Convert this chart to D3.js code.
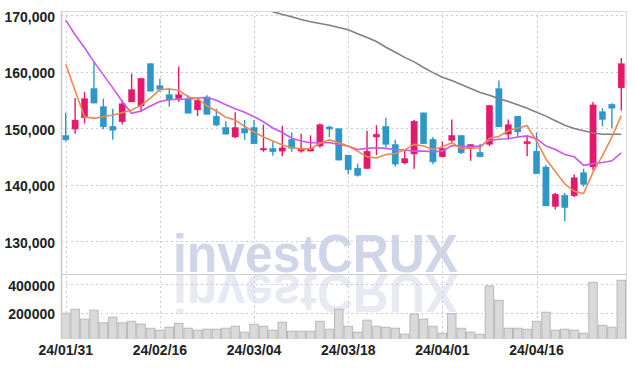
<!DOCTYPE html>
<html lang="ko">
<head>
<meta charset="UTF-8">
<title>Candles</title>
<style>
  body { margin: 0; background: #fff; }
  svg text { font-family: "Liberation Sans Narrow", "Liberation Sans", sans-serif; }
</style>
</head>
<body>
<div id="chart"></div>
<script src="https://cdn.jsdelivr.net/npm/d3@7"></script>
<script>
const WIDTH = 635;
const HEIGHT = 368;
const LEFT = 61;
const RIGHT = 626;
const MAIN_TOP = 11;
const MAIN_BOTTOM = 274;
const VOL_BOTTOM = 339;
const UP = "#e3196b";
const DOWN = "#2f96c8";

// trading days
const DATES = [
  "2024-01-31", "2024-02-01", "2024-02-02", "2024-02-05", "2024-02-06", "2024-02-07", "2024-02-08", "2024-02-13", "2024-02-14", "2024-02-15",
  "2024-02-16", "2024-02-19", "2024-02-20", "2024-02-21", "2024-02-22", "2024-02-23", "2024-02-26", "2024-02-27", "2024-02-28", "2024-02-29",
  "2024-03-04", "2024-03-05", "2024-03-06", "2024-03-07", "2024-03-08", "2024-03-11", "2024-03-12", "2024-03-13", "2024-03-14", "2024-03-15",
  "2024-03-18", "2024-03-19", "2024-03-20", "2024-03-21", "2024-03-22", "2024-03-25", "2024-03-26", "2024-03-27", "2024-03-28", "2024-03-29",
  "2024-04-01", "2024-04-02", "2024-04-03", "2024-04-04", "2024-04-05", "2024-04-08", "2024-04-09", "2024-04-11", "2024-04-12", "2024-04-15",
  "2024-04-16", "2024-04-17", "2024-04-18", "2024-04-19", "2024-04-22", "2024-04-23", "2024-04-24", "2024-04-25", "2024-04-26", "2024-04-29"
];

const OPEN = [
  148700, 149800, 151800, 157000, 153800, 150300, 151100, 154600, 153900, 161400,
  157500, 155900, 155200, 155200, 153200, 155500, 152100, 150100, 148400, 149900,
  150100, 146100, 146400, 145900, 148000, 145900, 145900, 146800, 150200, 149900,
  145200, 142900, 142800, 148400, 150300, 147100, 143800, 145400, 152700, 148000,
  144900, 147800, 148700, 146500, 145700, 147100, 157000, 148900, 152100, 147200,
  145900, 143100, 136100, 138100, 138000, 142100, 143100, 152900, 154200, 157100
];
const HIGH = [
  152700, 155300, 156400, 161800, 155200, 153400, 154900, 159600, 158900, 161500,
  158700, 157100, 160900, 155800, 155300, 155800, 153400, 151200, 152800, 151400,
  151400, 150600, 147600, 150400, 149200, 149000, 148700, 150800, 150400, 149900,
  145200, 143700, 149500, 150500, 151800, 147900, 146100, 151400, 152700, 148400,
  147600, 151500, 148700, 147100, 147200, 154100, 158400, 151500, 152100, 148500,
  149200, 143400, 138500, 138500, 141800, 142800, 154600, 153500, 154400, 162400
];
const LOW = [
  147600, 149000, 150800, 154400, 149800, 147900, 150600, 154600, 152800, 156500,
  156400, 153800, 154600, 152600, 152100, 152400, 150300, 148900, 148200, 147900,
  147200, 145800, 145100, 145000, 145800, 145600, 145900, 146500, 148400, 144300,
  141800, 141400, 142800, 145200, 146600, 143200, 143600, 142800, 147200, 143600,
  144900, 147400, 145400, 144200, 144900, 146800, 150200, 148000, 148400, 145000,
  141900, 136200, 135600, 133500, 137800, 139600, 142500, 150300, 150000, 153100
];
const CLOSE = [
  147900, 151400, 155200, 154400, 150200, 149600, 154300, 156800, 158800, 156500,
  156800, 155000, 155900, 152600, 154900, 152400, 150500, 148900, 150100, 149100,
  147200, 146400, 145800, 146500, 146400, 146400, 146400, 150600, 149800, 144300,
  142600, 141600, 145900, 148900, 147100, 143600, 144600, 151200, 147200, 144000,
  146400, 148700, 145600, 147100, 144900, 154000, 150200, 150600, 149300, 147600,
  141900, 136200, 138300, 135900, 141200, 140000, 154100, 151500, 153500, 161400
];
const VOLUME = [
  196000, 224000, 154000, 217000, 128000, 168000, 128000, 139000, 120000, 90000,
  76000, 97000, 125000, 90000, 76000, 83000, 83000, 90000, 104000, 62000,
  118000, 104000, 76000, 132000, 69000, 69000, 69000, 139000, 83000, 224000,
  104000, 62000, 147000, 104000, 97000, 90000, 48000, 191000, 154000, 104000,
  55000, 193000, 90000, 62000, 48000, 388000, 287000, 90000, 90000, 83000,
  139000, 203000, 76000, 83000, 76000, 55000, 414000, 111000, 97000, 428000
];
const MA5 = [
  161300, 156600, 152000, 151700, 152000, 152300, 152700, 153200, 154000, 155300,
  156800, 156900, 156700, 155500, 155200, 153900, 153000, 151900, 151400, 150300,
  149300, 148400, 147700, 147000, 146500, 146300, 146300, 147300, 147900, 147400,
  146800, 145900, 144900, 144700, 145300, 145500, 146100, 147100, 146800, 146200,
  146700, 147400, 146400, 146400, 146500, 148200, 148500, 149500, 150000, 150400,
  147700, 144500, 142300, 140100, 138800, 138400, 142200, 145100, 148400, 152200
];
const MA20 = [
  169100, 166500, 164200, 161700, 159400, 157100, 154700, 152600, 153000, 153900,
  154700, 155000, 155100, 155100, 155300, 155400, 154900, 154100, 153400, 152800,
  152000, 151100, 150000, 149200, 148200, 147700, 147400, 147400, 147400, 147100,
  146800, 146200, 146400, 146500, 146400, 146200, 146100, 145900, 145900, 145800,
  145900, 146900, 146800, 146700, 146800, 147800, 148000, 148100, 148400, 148600,
  148100, 146800, 146200, 145300, 144900, 143400, 143700, 143900, 144200, 145600
];
const MA60 = [
  null, null, null, null, null, null, null, null, null, null,
  null, null, null, null, null, null, null, null, null, null,
  171300, 171000, 170600, 170100, 169700, 169200, 168800, 168500, 168200, 167800,
  167400, 166700, 166000, 165300, 164300, 163400, 162500, 161700, 160700, 159800,
  159000, 158400, 157700, 157000, 156300, 155800, 155200, 154700, 154100, 153500,
  152800, 152100, 151300, 150500, 149900, 149500, 149100, 148900, 148900, 148900
];

const PRICE_TICKS = [130000, 140000, 150000, 160000, 170000];
const VOLUME_TICKS = [200000, 400000];
const DATE_TICKS = ["2024-01-31", "2024-02-16", "2024-03-04", "2024-03-18", "2024-04-01", "2024-04-16"];

const candles = DATES.map((d, i) => ({
  date: d, open: OPEN[i], high: HIGH[i], low: LOW[i], close: CLOSE[i], volume: VOLUME[i]
}));

const x = d3.scaleBand().domain(DATES).range([LEFT, RIGHT]);
const cx = d => x(d) + x.bandwidth() / 2;

const y = d3.scaleLinear().domain([130000, 170000]).range([241, 15]);
const yVol = d3.scaleLinear().domain([0, 400000]).range([341, 284.3]);

const parseDate = d3.timeParse("%Y-%m-%d");
const fmtDate = d3.timeFormat("%y/%m/%d");

const svg = d3.select("#chart")
  .append("svg")
  .attr("width", WIDTH)
  .attr("height", HEIGHT);

const defs = svg.append("defs");
defs.append("clipPath").attr("id", "clip-main")
  .append("rect")
  .attr("x", LEFT).attr("y", MAIN_TOP)
  .attr("width", RIGHT - LEFT).attr("height", MAIN_BOTTOM - MAIN_TOP);
defs.append("clipPath").attr("id", "clip-vol")
  .append("rect")
  .attr("x", LEFT).attr("y", MAIN_BOTTOM)
  .attr("width", RIGHT - LEFT).attr("height", VOL_BOTTOM - MAIN_BOTTOM);

// watermark + reflection
const mark = svg.append("g")
  .style("font-family", "\"DejaVu Sans\", sans-serif")
  .style("font-weight", "bold")
  .style("font-size", "54px")
  .attr("fill", "#d0d6e8");
mark.append("text")
  .attr("x", 173).attr("y", 272)
  .attr("textLength", 285).attr("lengthAdjust", "spacingAndGlyphs")
  .text("investCRUX");
mark.append("text")
  .attr("x", 173).attr("y", 272)
  .attr("transform", "translate(0, 547) scale(1, -1)")
  .attr("textLength", 285).attr("lengthAdjust", "spacingAndGlyphs")
  .attr("opacity", 0.5)
  .text("investCRUX");

// grid
const grid = svg.append("g")
  .attr("stroke", "#c6cbe0")
  .attr("stroke-dasharray", "2,3")
  .attr("stroke-width", 1);
grid.selectAll(".hp")
  .data(PRICE_TICKS)
  .enter().append("line")
  .attr("x1", LEFT).attr("x2", RIGHT)
  .attr("y1", d => Math.round(y(d)) + 0.5).attr("y2", d => Math.round(y(d)) + 0.5);
grid.selectAll(".hv")
  .data(VOLUME_TICKS)
  .enter().append("line")
  .attr("x1", LEFT).attr("x2", RIGHT)
  .attr("y1", d => Math.round(yVol(d)) + 0.5).attr("y2", d => Math.round(yVol(d)) + 0.5);
grid.selectAll(".v")
  .data(DATE_TICKS)
  .enter().append("line")
  .attr("x1", d => Math.round(cx(d)) + 0.5).attr("x2", d => Math.round(cx(d)) + 0.5)
  .attr("y1", MAIN_TOP).attr("y2", VOL_BOTTOM);

// volume bars
svg.append("g")
  .attr("clip-path", "url(#clip-vol)")
  .selectAll("rect")
  .data(candles)
  .enter().append("rect")
  .attr("x", d => x(d.date) + 0.5)
  .attr("y", d => yVol(d.volume))
  .attr("width", x.bandwidth() - 1)
  .attr("height", d => VOL_BOTTOM - yVol(d.volume) + 2)
  .attr("fill", "#d9d9d9")
  .attr("stroke", "#b8b8b8")
  .attr("stroke-width", 1);

// candles
const main = svg.append("g").attr("clip-path", "url(#clip-main)");
const candle = main.selectAll(".candle")
  .data(candles)
  .enter().append("g")
  .attr("fill", d => d.close >= d.open ? UP : DOWN)
  .attr("stroke", d => d.close >= d.open ? UP : DOWN);

candle.append("line")
  .attr("x1", d => cx(d.date)).attr("x2", d => cx(d.date))
  .attr("y1", d => y(d.high)).attr("y2", d => y(d.low))
  .attr("stroke-width", 1.4);

candle.append("rect")
  .attr("x", d => cx(d.date) - 3.2)
  .attr("width", 6.4)
  .attr("y", d => y(Math.max(d.open, d.close)))
  .attr("height", d => Math.max(1.5, Math.abs(y(d.open) - y(d.close))))
  .attr("stroke-width", 0.6)
  .attr("stroke-opacity", 0.5);

// moving averages
const maLine = d3.line()
  .defined(d => d != null)
  .x((d, i) => cx(DATES[i]))
  .y(d => y(d));

main.append("path").datum(MA60)
  .attr("d", maLine)
  .attr("fill", "none").attr("stroke", "#808080").attr("stroke-width", 1.6);
main.append("path").datum(MA20)
  .attr("d", maLine)
  .attr("fill", "none").attr("stroke", "#cc55ee").attr("stroke-width", 1.6);
main.append("path").datum(MA5)
  .attr("d", maLine)
  .attr("fill", "none").attr("stroke", "#f08850").attr("stroke-width", 1.6);

// frame
const frame = svg.append("g").attr("fill", "none");
frame.append("line").attr("x1", LEFT).attr("x2", RIGHT).attr("y1", MAIN_TOP + 0.5).attr("y2", MAIN_TOP + 0.5).attr("stroke", "#dcdcdc");
frame.append("line").attr("x1", RIGHT + 0.5).attr("x2", RIGHT + 0.5).attr("y1", MAIN_TOP).attr("y2", VOL_BOTTOM).attr("stroke", "#dcdcdc");
frame.append("line").attr("x1", LEFT).attr("x2", RIGHT).attr("y1", MAIN_BOTTOM + 0.5).attr("y2", MAIN_BOTTOM + 0.5).attr("stroke", "#cccccc");
frame.append("line").attr("x1", LEFT + 0.5).attr("x2", LEFT + 0.5).attr("y1", MAIN_TOP).attr("y2", VOL_BOTTOM).attr("stroke", "#c8c8c8").attr("stroke-width", 1.5);

// axes
const yAxis = svg.append("g")
  .attr("transform", `translate(${LEFT}, 0)`)
  .call(d3.axisLeft(y).tickValues(PRICE_TICKS).tickFormat(d3.format(",")).tickSize(0).tickPadding(6));
const volAxis = svg.append("g")
  .attr("transform", `translate(${LEFT}, 0)`)
  .call(d3.axisLeft(yVol).tickValues(VOLUME_TICKS).tickFormat(d3.format("d")).tickSize(0).tickPadding(6));
const xAxis = svg.append("g")
  .attr("transform", `translate(0, ${VOL_BOTTOM})`)
  .call(d3.axisBottom(x).tickValues(DATE_TICKS).tickFormat(d => fmtDate(parseDate(d))).tickSize(0).tickPadding(6));

[yAxis, volAxis, xAxis].forEach(a => {
  a.select(".domain").remove();
  a.selectAll("text")
    .style("font-family", "\"Liberation Sans Narrow\", sans-serif")
    .style("font-size", "14px")
    .style("font-weight", "bold")
    .attr("fill", "#222");
});
yAxis.selectAll("text").attr("dy", "0.45em");
volAxis.selectAll("text").attr("dy", "0.45em");
</script>
</body>
</html>
